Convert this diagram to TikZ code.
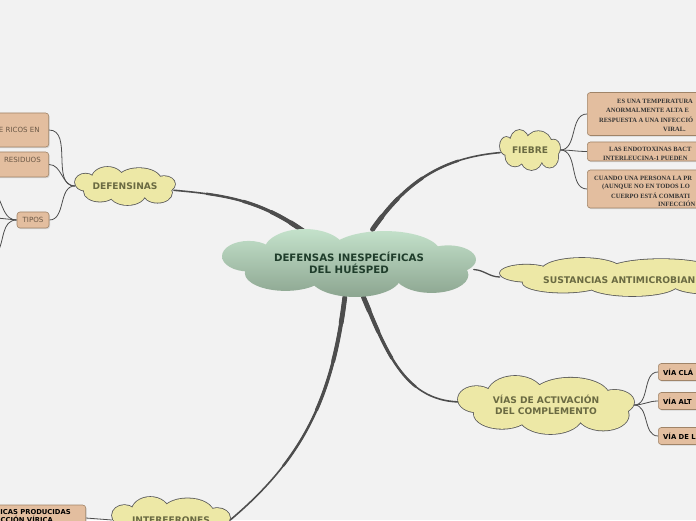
\documentclass[tikz,border=0pt]{standalone}
\usepackage{fontspec}
\newfontfamily\mapsans{DejaVu Sans}
\newfontfamily\mapserif{Liberation Serif}
\usetikzlibrary{shapes.geometric,shadows}
\pgfdeclarelayer{edges}
\pgfdeclarelayer{clouds}
\pgfsetlayers{edges,clouds,main}
\definecolor{canvas}{HTML}{F2F2F2}
\definecolor{cloudfill}{HTML}{EDE8A6}
\definecolor{cloudline}{HTML}{5A5A5A}
\definecolor{cloudtext}{HTML}{6A6A42}
\definecolor{rootTop}{HTML}{C4E2CB}
\definecolor{rootBot}{HTML}{8CA590}
\definecolor{roottext}{HTML}{1F3D2B}
\definecolor{leaffill}{HTML}{E3BE9F}
\definecolor{leafline}{HTML}{A08468}
\definecolor{leafbrown}{HTML}{6B5846}
\definecolor{branchcolor}{HTML}{4D4D4D}
% lobes of a cloud, in a unit box: x/y/x radius/y radius
\def\lobes{0/0/.8/.6, -.79/.2/.21/.45, -.35/.35/.32/.65, .28/.3/.44/.64, .78/.1/.22/.42,
  -.5/-.3/.32/.52, .05/-.4/.36/.6, .65/-.35/.29/.53}
\begin{document}
\begin{tikzpicture}[x=1pt,y=1pt,
  blob/.style={ellipse,inner sep=0pt,align=center,text=cloudtext,
    font=\mapsans\bfseries\fontsize{9.1}{11.5}\selectfont},
  cloudlabel/.style={inner sep=0pt,text=cloudtext,font=\mapsans\bfseries\fontsize{9.2}{11}\selectfont},
  leafbox/.style={draw=leafline,fill=leaffill,rounded corners=3pt,line width=0.6pt,inner sep=0pt,
    drop shadow={opacity=0.25,shadow xshift=1pt,shadow yshift=-1.2pt}},
  fbtxt/.style={anchor=west,inner sep=0pt,text=black!80,font=\mapserif\bfseries\fontsize{6.5}{7}\selectfont},
  vtxt/.style={inner sep=0pt,text=black,font=\mapsans\bfseries\fontsize{6.8}{7}\selectfont},
  ltxt/.style={inner sep=0pt,text=leafbrown,font=\mapsans\fontsize{7.1}{8}\selectfont},
  twig/.style={draw=branchcolor,line width=0.8pt},
  branchline/.style={draw=branchcolor,line cap=round}]
\useasboundingbox (0,0) rectangle (696,520);
\clip (0,0) rectangle (696,520);
% main topic
\node[blob,minimum width=254pt,minimum height=68pt,text=roottext,
  font=\mapsans\bfseries\fontsize{10.2}{11.5}\selectfont] (root) at (349,257) {DEFENSAS INESPECÍFICAS\\DEL HUÉSPED};
% sub topics
\node[blob,minimum width=100pt,minimum height=38pt] (defc) at (125,334) {DEFENSINAS};
\node[blob,minimum width=60pt,minimum height=40pt] (fiebre) at (530,370) {FIEBRE};
\node[blob,minimum width=252pt,minimum height=38pt] (sust) at (626,243) {};
\node[cloudlabel,anchor=west] (sustlbl) at (543,240) {SUSTANCIAS ANTIMICROBIAN};
\node[blob,minimum width=176pt,minimum height=58pt] (vias) at (546,115) {VÍAS DE ACTIVACIÓN\\DEL COMPLEMENTO};
\node[blob,minimum width=118pt,minimum height=46pt] (interf) at (171,0) {INTERFERONES};
% fiebre
\node[leafbox,anchor=west,minimum width=130pt,minimum height=43pt] (fb1) at (587,406) {};
\node[leafbox,anchor=west,minimum width=130pt,minimum height=19pt] (fb2) at (587,368.5) {};
\node[leafbox,anchor=west,minimum width=130pt,minimum height=38pt] (fb3) at (587,331) {};
\node[fbtxt] (fb1a) at (617,419) {ES UNA TEMPERATURA};
\node[fbtxt] (fb1b) at (606,409.5) {ANORMALMENTE ALTA E};
\node[fbtxt] (fb1c) at (599,400) {RESPUESTA A UNA INFECCIÓ};
\node[fbtxt] (fb1d) at (663,391) {VIRAL.};
\node[fbtxt] (fb2a) at (609,371) {LAS ENDOTOXINAS BACT};
\node[fbtxt] (fb2b) at (603,362) {INTERLEUCINA-1 PUEDEN};
\node[fbtxt] (fb3a) at (594,342) {CUANDO UNA PERSONA LA PR};
\node[fbtxt] (fb3b) at (602,333.5) {(AUNQUE NO EN TODOS LO};
\node[fbtxt] (fb3c) at (611,324.5) {CUERPO ESTÁ COMBATI};
\node[fbtxt] (fb3d) at (658,316.5) {INFECCIÓN};
% vias
\node[leafbox,anchor=west,minimum width=60pt,minimum height=17pt] (vb1) at (658,148) {};
\node[leafbox,anchor=west,minimum width=60pt,minimum height=17pt] (vb2) at (658,119) {};
\node[leafbox,anchor=west,minimum width=60pt,minimum height=17pt] (vb3) at (658,84) {};
\node[vtxt,anchor=west] (vb1t) at (663,148) {VÍA CLÁ};
\node[vtxt,anchor=west] (vb2t) at (663,119) {VÍA ALT};
\node[vtxt,anchor=west] (vb3t) at (663,84) {VÍA DE L};
% defensinas
\node[leafbox,anchor=east,minimum width=100pt,minimum height=34pt] (ba) at (49,390) {};
\node[ltxt,anchor=east] (bat) at (40,390) {E RICOS EN};
\node[leafbox,anchor=east,minimum width=100pt,minimum height=25pt] (bb) at (49,355.5) {};
\node[ltxt,anchor=east] (bbt) at (41,360) {RESIDUOS};
\node[leafbox,ltxt,minimum width=32pt,minimum height=16pt] (tipos) at (33,300) {TIPOS};
\coordinate (t1) at (-3,325);
\coordinate (t2) at (-3,302);
\coordinate (t3) at (-3,266);
% interferones
\node[leafbox,anchor=east,minimum width=120pt,minimum height=26pt] (il) at (86,2) {};
\node[vtxt,anchor=east] (ila) at (71,8) {ICAS PRODUCIDAS};
\node[vtxt,anchor=east] (ilb) at (53,0.5) {CCIÓN VÍRICA};
% cloud bodies
\begin{pgfonlayer}{clouds}
\begin{scope}[shift={(root.center)},xscale=127,yscale=34]
  \shade[top color=rootTop,bottom color=rootBot] foreach \cx/\cy/\rx/\ry in \lobes {(\cx,\cy) ellipse [x radius=\rx,y radius=\ry]};
\end{scope}
\foreach \c/\hw/\hh in {defc/50/19, fiebre/30/20, sust/126/19, vias/88/29, interf/59/23}{
  \begin{scope}[shift={(\c.center)},xscale=\hw,yscale=\hh]
    \draw[cloudline,line width=1.6pt] foreach \cx/\cy/\rx/\ry in \lobes {(\cx,\cy) ellipse [x radius=\rx,y radius=\ry]};
    \fill[cloudfill] foreach \cx/\cy/\rx/\ry in \lobes {(\cx,\cy) ellipse [x radius=\rx,y radius=\ry]};
  \end{scope}
}
\end{pgfonlayer}
\begin{pgfonlayer}{edges}
\fill[canvas] (0,0) rectangle (696,520);
\foreach \src/\sa/\ta/\dst/\len in {root/145/-5/defc/150, root/55/185/fiebre/160, root/-67/178/vias/150, root/-97/40/interf.east/260}{
  \foreach \w/\f in {4.8/0.1,4.0/0.25,3.2/0.45,2.4/0.7}{
    \pgfmathsetmacro\dl{\f*\len}
    \draw[branchline,line width=\w pt,dash pattern=on \dl pt off 3000pt] (\src) to[out=\sa,in=\ta] (\dst);
  }
  \draw[branchline,line width=1.6pt] (\src) to[out=\sa,in=\ta] (\dst);
}
\draw[branchline,line width=1.3pt] (root) to[out=-3,in=180] (sust);
\foreach \b in {fb1,fb2,fb3} \draw[twig] (fiebre.east) to[out=0,in=180] (\b.west);
\foreach \b in {vb1,vb2,vb3} \draw[twig] (vias.east) to[out=0,in=180] (\b.west);
\foreach \b in {ba,bb,tipos} \draw[twig] (defc.west) to[out=180,in=0] (\b.east);
\draw[twig] (tipos.west) to[out=180,in=-60] (t1);
\draw[twig] (tipos.west) -- (t2);
\draw[twig] (tipos.west) to[out=180,in=60] (t3);
\draw[twig] (il.east) -- (interf.west);
\end{pgfonlayer}
\end{tikzpicture}
\end{document}
